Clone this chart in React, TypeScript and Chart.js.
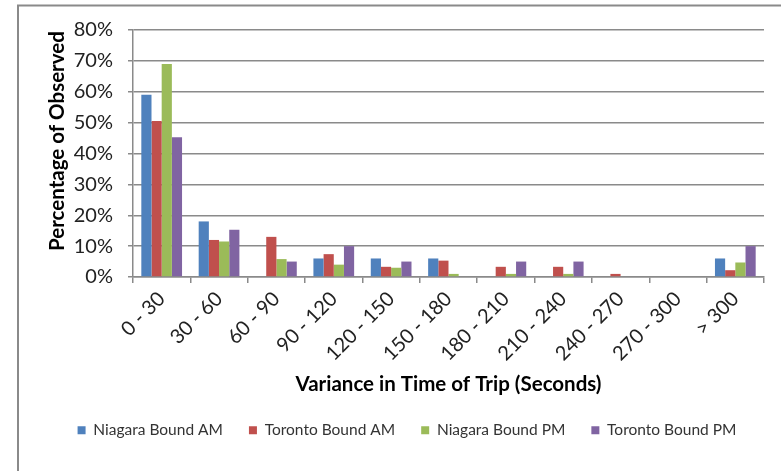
import React, { useEffect, useRef } from "react";
import { Chart, registerables } from "chart.js";

Chart.register(...registerables);

const categories = ["0 - 30", "30 - 60", "60 - 90", "90 - 120", "120 - 150", "150 - 180", "180 - 210", "210 - 240", "240 - 270", "270 - 300", "> 300"];
const niagaraAM = [59, 18, 0, 6, 6, 6, 0, 0, 0, 0, 6];
const torontoAM = [50.5, 12, 13, 7.4, 3.3, 5.3, 3.3, 3.3, 1, 0, 2.2];
const niagaraPM = [69, 11.5, 5.8, 4, 3, 1, 1, 1, 0, 0, 4.7];
const torontoPM = [45.3, 15.3, 5, 10, 5, 0, 5, 5, 0, 0, 10];
const yTicks = [0, 10, 20, 30, 40, 50, 60, 70, 80];

const FONT = "Lato";
const GRID = "#8a8a8a";
const PAD_LEFT = 10;
const LEG_PAD = 26;

const framePlugin = {
  id: "frame",
  afterLayout(chart: any) {
    if (chart.legend) {
      chart.legend.left += 20;
      chart.legend.right += 20;
    }
  },
  beforeDraw(chart: any) {
    const ctx = chart.ctx;
    ctx.save();
    ctx.fillStyle = "#ffffff";
    ctx.fillRect(0, 0, chart.width, chart.height);
    ctx.strokeStyle = GRID;
    ctx.lineWidth = 2;
    ctx.beginPath();
    ctx.moveTo(18, chart.height);
    ctx.lineTo(18, 5.5);
    ctx.lineTo(chart.width, 5.5);
    ctx.stroke();
    ctx.restore();
  },
};

export default function App() {
  const ref = useRef<HTMLCanvasElement>(null);
  useEffect(() => {
    document.body.style.margin = "0";
    const chart = new Chart(ref.current as HTMLCanvasElement, {
      type: "bar",
      data: {
        labels: categories,
        datasets: [
          { label: "Niagara Bound AM", data: niagaraAM, backgroundColor: "#4F81BD" },
          { label: "Toronto Bound AM", data: torontoAM, backgroundColor: "#C0504D" },
          { label: "Niagara Bound PM", data: niagaraPM, backgroundColor: "#9BBB59" },
          { label: "Toronto Bound PM", data: torontoPM, backgroundColor: "#8064A2" },
        ],
      },
      options: {
        responsive: false,
        animation: false,
        devicePixelRatio: 1,
        layout: { padding: { left: PAD_LEFT, right: 17, top: 30, bottom: 23 } },
        datasets: { bar: { barPercentage: 1, categoryPercentage: 0.71 } },
        plugins: {
          legend: {
            position: "bottom",
            labels: {
              boxWidth: 8,
              boxHeight: 8,
              padding: LEG_PAD,
              color: "#333333",
              font: { family: FONT, size: 15.5 },
            },
          },
          tooltip: { enabled: false },
        },
        scales: {
          x: {
            afterFit: (s: any) => { s.height = 119.5; },
            grid: { display: true, drawOnChartArea: false, tickLength: 6, color: GRID, lineWidth: 1.5 },
            border: { display: true, color: GRID, width: 1.5 },
            ticks: { autoSkip: false, maxRotation: 45, minRotation: 45, padding: 4, color: "#222222", font: { family: FONT, size: 20 } },
            title: {
              display: true,
              text: "Variance in Time of Trip (Seconds)",
              color: "#000000",
              font: { family: FONT, size: 20.5, weight: "bold" },
              padding: { top: 0, bottom: 0 },
            },
          },
          y: {
            min: 0,
            max: 80,
            afterFit: (s: any) => { s.width = 133 - PAD_LEFT; },
            afterBuildTicks: (s: any) => { s.ticks = yTicks.map((v) => ({ value: v })); },
            grid: { color: GRID, lineWidth: 1.5, tickLength: 5 },
            border: { display: true, color: GRID, width: 1.5 },
            ticks: {
              autoSkip: false,
              padding: 15,
              color: "#222222",
              font: { family: FONT, size: 20 },
              callback: (v: any) => v + "%",
            },
            title: {
              display: true,
              text: "     Percentage of Observed",
              color: "#000000",
              font: { family: FONT, size: 20.5, weight: "bold" },
              padding: { top: 35, bottom: 0 },
            },
          },
        },
      },
      plugins: [framePlugin],
    } as any);
    return () => chart.destroy();
  }, []);
  return <canvas ref={ref} width={781} height={471} style={{ display: "block" }} />;
}
